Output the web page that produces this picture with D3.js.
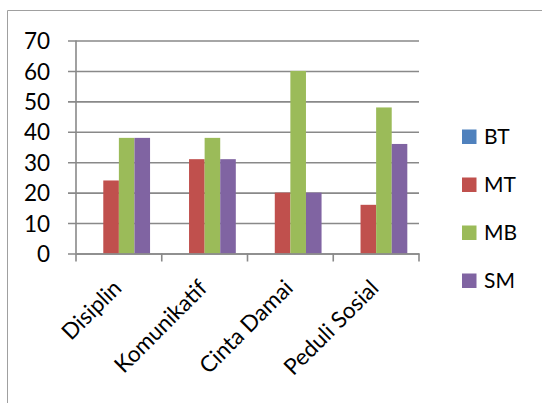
<!DOCTYPE html>
<html>
<head>
<meta charset="utf-8">
<script src="https://cdn.jsdelivr.net/npm/d3@7"></script>
<style>
  html, body { margin: 0; padding: 0; background: #fff; }
  svg { display: block; font-family: Lato, "Open Sans", sans-serif; }
</style>
</head>
<body>
<svg id="chart" width="542" height="403"></svg>
<script>
// Category names along the x axis
const categories = ["Disiplin", "Komunikatif", "Cinta Damai", "Peduli Sosial"];
// Series names (legend order)
const seriesNames = ["BT", "MT", "MB", "SM"];
// Values per series, one per category
const valuesBT = [0, 0, 0, 0];
const valuesMT = [24, 31, 20, 16];
const valuesMB = [38, 38, 60, 48];
const valuesSM = [38, 31, 20, 36];
// Y axis ticks
const yTicks = [0, 10, 20, 30, 40, 50, 60, 70];
const seriesColors = ["#4F81BD", "#C0504D", "#9BBB59", "#8064A2"];

const seriesValues = [valuesBT, valuesMT, valuesMB, valuesSM];
const data = categories.map((c, i) => {
  const row = { category: c };
  seriesNames.forEach((s, j) => { row[s] = seriesValues[j][i]; });
  return row;
});

const svg = d3.select("#chart");
const gridColor = "#898989";

// outer chart frame (continues past the right and bottom edges)
svg.append("path")
  .attr("d", "M7.5,403 L7.5,10.5 L542,10.5")
  .attr("fill", "none").attr("stroke", "#a0a0a0").attr("stroke-width", 1);

const plot = { left: 76, right: 419, top: 40.5, bottom: 253.5 };

const x0 = d3.scaleBand().domain(categories).range([plot.left, plot.right]).paddingInner(0).paddingOuter(0);
const x1 = d3.scaleBand().domain(seriesNames).range([0, x0.bandwidth()]).paddingInner(0).paddingOuter(0.75);
const y = d3.scaleLinear().domain([0, 70]).range([plot.bottom, plot.top]);
const color = d3.scaleOrdinal().domain(seriesNames).range(seriesColors);

// horizontal gridlines with left tick marks
const yAxis = d3.axisLeft(y).tickValues(yTicks).tickSize(-(plot.right - plot.left)).tickSizeOuter(0).tickPadding(26)
  .tickFormat(d3.format("d"));
const gy = svg.append("g").attr("transform", `translate(${plot.left},0)`).call(yAxis);
gy.select(".domain").remove();
gy.selectAll(".tick line").attr("stroke", gridColor).attr("stroke-width", 1.6).attr("x1", -8);
gy.selectAll(".tick text").attr("font-size", 22.5).attr("fill", "#000")
  .attr("font-family", "Lato, sans-serif").attr("dy", "0.36em");

// bars
const groups = svg.append("g").selectAll("g").data(data).join("g")
  .attr("transform", d => `translate(${x0(d.category)},0)`);
groups.selectAll("rect")
  .data(d => seriesNames.map(s => ({ key: s, value: d[s] })))
  .join("rect")
  .attr("x", d => x1(d.key))
  .attr("width", x1.bandwidth())
  .attr("y", d => y(d.value))
  .attr("height", d => y(0) - y(d.value))
  .attr("fill", d => color(d.key));

// vertical axis line
svg.append("line")
  .attr("x1", plot.left).attr("x2", plot.left)
  .attr("y1", plot.top).attr("y2", plot.bottom)
  .attr("stroke", gridColor).attr("stroke-width", 1.6);

// x axis with rotated category labels
const xAxis = d3.axisBottom(x0).tickSize(0).tickSizeOuter(0);
const gx = svg.append("g").attr("transform", `translate(0,${plot.bottom})`).call(xAxis);
gx.select(".domain").attr("stroke", gridColor).attr("stroke-width", 1.6);
gx.selectAll(".tick text")
  .attr("font-size", 22.5).attr("fill", "#000").attr("font-family", "Lato, sans-serif")
  .attr("text-anchor", "end")
  .attr("dy", 0).attr("y", 0)
  .attr("transform", "translate(4,36) rotate(-45)");

// separator ticks at category boundaries
const bounds = categories.map(c => x0(c)).concat([plot.right]);
svg.append("g").selectAll("line").data(bounds).join("line")
  .attr("x1", d => d).attr("x2", d => d)
  .attr("y1", plot.bottom).attr("y2", plot.bottom + 8)
  .attr("stroke", gridColor).attr("stroke-width", 1.6);

// legend
const legend = svg.append("g").attr("transform", "translate(462,129.5)");
const li = legend.selectAll("g").data(seriesNames).join("g")
  .attr("transform", (d, i) => `translate(0,${i * 48})`);
li.append("rect").attr("width", 14.5).attr("height", 14.5).attr("fill", d => color(d));
li.append("text").attr("x", 22).attr("y", 14.5).attr("font-size", 21).attr("fill", "#000")
  .text(d => d);
</script>
</body>
</html>
